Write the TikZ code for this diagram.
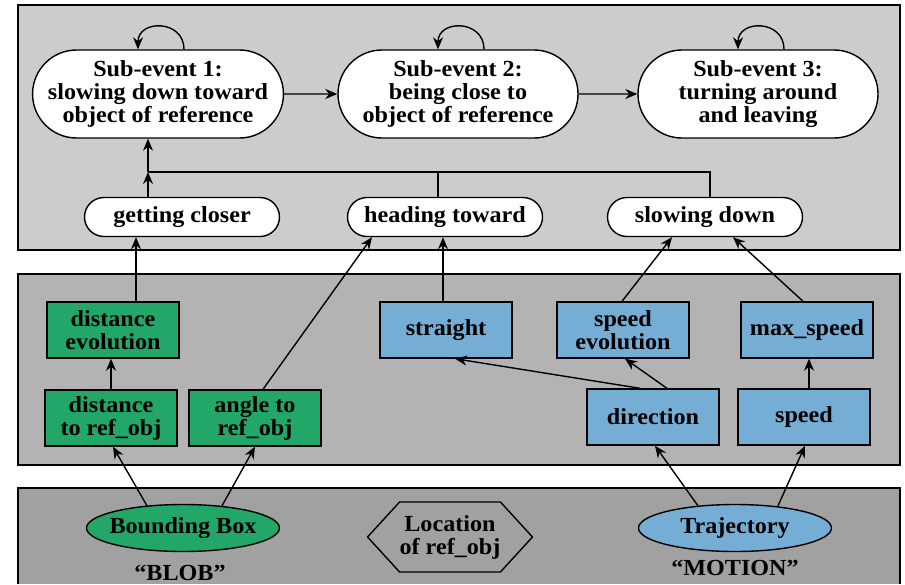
\documentclass[tikz,border=0pt]{standalone}
\usepackage{fontspec}
\setmainfont{Liberation Serif}[FakeStretch=1.05]
\usepackage{tikz}
\usetikzlibrary{shapes.misc, shapes.geometric, shapes.symbols, arrows.meta, calc}

\definecolor{paneltop}{RGB}{204,204,204}
\definecolor{panelmid}{RGB}{179,179,179}
\definecolor{panelbot}{RGB}{161,161,161}
\definecolor{blobgreen}{RGB}{34,167,104}
\definecolor{motionblue}{RGB}{117,173,212}

\tikzset{
    arr/.style={-{Stealth[length=12pt, width=10pt]}},
    event/.style={draw, fill=white, rounded rectangle, minimum width=240pt, minimum height=88pt, inner sep=0pt, align=center},
    predicate/.style={draw, fill=white, rounded rectangle, minimum width=195pt, minimum height=39pt, inner sep=0pt},
    feature/.style={draw, rectangle, minimum width=132pt, minimum height=56pt, inner sep=0pt, align=center},
    source/.style={draw, ellipse, minimum width=193pt, minimum height=47pt, inner xsep=-6pt, inner ysep=0pt}
}

\begin{document}
\begin{tikzpicture}[x=1pt, y=-1pt, line width=1.4pt, font=\fontsize{23}{23}\selectfont\bfseries]
    \useasboundingbox (0,0) rectangle (905,584);
    % panels
    \draw[fill=paneltop] (18,5) rectangle (900,250);
    \draw[fill=panelmid] (18,274) rectangle (900,465);
    \fill[panelbot] (18,488) rectangle (900,584);
    \draw (18,584) |- (900,488) -- (900,584);

    % sub-events
    \node[event] (se1) at (158,94) {Sub-event 1:\\slowing down toward\\object of reference};
    \node[event] (se2) at (458,94) {Sub-event 2:\\being close to\\object of reference};
    \node[event] (se3) at (758,94) {Sub-event 3:\\turning around\\and leaving};
    \foreach \s in {se1, se2, se3}
        \draw[arr] ($(\s.north)+(26,0)$) .. controls +(0,-30) and +(0,-30) .. ($(\s.north)+(-20,0)$);
    \draw[arr] (se1) -- (se2);
    \draw[arr] (se2) -- (se3);

    \node[predicate] (gc) at (182,217) {getting closer};
    \node[predicate] (ht) at (445,217) {heading toward};
    \node[predicate] (sd) at (705,217) {slowing down};

    \coordinate (j) at (148,172);
    \draw[arr] (gc.north -| j) -- (j);
    \draw[arr] (j) -- (j |- se1.south);
    \draw ($(ht.north)+(-7,0)$) |- (j);
    \draw ($(sd.north)+(5,0)$) |- (j);

    % features
    \node[feature, fill=blobgreen] (devo) at (113,330) {distance\\evolution};
    \node[feature, fill=blobgreen] (dref) at (111,418) {distance\\to ref\_obj};
    \node[feature, fill=blobgreen] (aref) at (255,418) {angle to\\ref\_obj};
    \node[feature, fill=motionblue] (str) at (446,330) {straight};
    \node[feature, fill=motionblue] (spevo) at (623,330) {speed\\evolution};
    \node[feature, fill=motionblue] (maxsp) at (807,330) {max\_speed};
    \node[feature, fill=motionblue] (dir) at (653,417) {direction};
    \node[feature, fill=motionblue] (spd) at (804,417) {speed};

    \draw[arr] ($(devo.north)+(23,0)$) -- ($(gc.south)+(-46,0)$);
    \draw[arr] (dref.north) -- (dref.north |- devo.south);
    \draw[arr] ($(aref.north)+(8,0)$) -- ($(ht.south)+(-73,0)$);
    \draw[arr] ($(str.north)+(-3,0)$) -- ($(ht.south)+(-2,0)$);
    \draw[arr] ($(spevo.north)+(-1,0)$) -- ($(sd.south)+(-33,0)$);
    \draw[arr] ($(maxsp.north)+(-4,0)$) -- ($(sd.south)+(28,0)$);
    \draw[arr] ($(dir.north)+(14,0)$) -- ($(spevo.south)+(2,0)$);
    \draw[arr] ($(dir.north)+(-13,0)$) -- ($(str.south)+(9,0)$);
    \draw[arr] ($(spd.north)+(5,0)$) -- ($(maxsp.south)+(2,0)$);

    % sources
    \node[source, fill=blobgreen] (bbox) at (183,528) {Bounding Box};
    \node (blob) at (180,573) {``BLOB''};
    \node[draw, signal, signal to=west and east, signal pointer angle=95, minimum width=154pt, minimum height=70pt, inner sep=0pt, align=center] (loc) at (450,537) {Location\\of ref\_obj};
    \node[source, fill=motionblue] (traj) at (735,528) {Trajectory};
    \node (motion) at (735,568) {``MOTION''};

    \draw[arr] ($(bbox.north)+(-36,2)$) -- ($(dref.south)+(2,0)$);
    \draw[arr] ($(bbox.north)+(39,2)$) -- (aref.south);
    \draw[arr] ($(traj.north)+(-37,2)$) -- ($(dir.south)+(2,0)$);
    \draw[arr] ($(traj.north)+(43,2)$) -- ($(spd.south)+(1,0)$);
\end{tikzpicture}
\end{document}
